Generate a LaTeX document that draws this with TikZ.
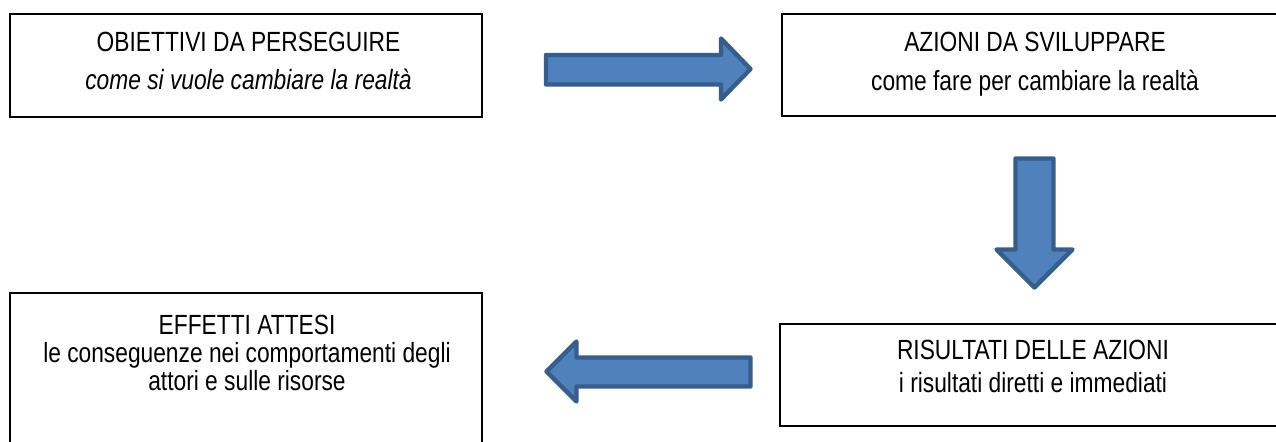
\documentclass[tikz,border=0pt]{standalone}
\usepackage{fontspec}
\setmainfont{Liberation Sans}[FakeStretch=0.82]
\usetikzlibrary{calc}
\definecolor{frecciablu}{HTML}{4F81BD}
\definecolor{bordoblu}{HTML}{385D8A}
\tikzset{
  riquadro/.style={draw=black, line width=1.1pt, inner sep=0pt},
  testo/.style={anchor=north, align=center, inner sep=0pt, font=\fontsize{15.8}{16.5}\selectfont},
  freccia/.style={fill=frecciablu, draw=bordoblu, line width=2.5pt, line join=round}
}
\begin{document}
\begin{tikzpicture}[x=0.02cm, y=-0.02cm]
\useasboundingbox (0,0) rectangle (1276,442);
\clip (0,0) rectangle (1276,442);
% riquadri
\node[riquadro, minimum width=9.44cm, minimum height=2.06cm] (obiettivi) at (246,65.5) {};
\node[riquadro, minimum width=10.12cm, minimum height=2.04cm] (azioni) at (1035,65) {};
\node[riquadro, minimum width=10.16cm, minimum height=2.04cm] (risultati) at (1034,375) {};
\node[riquadro, minimum width=9.44cm, minimum height=3.34cm] (effetti) at (246,376.5) {};
% testi
\node[testo] (t-obiettivi) at (248.5,31.7) {OBIETTIVI DA PERSEGUIRE\\[5pt] \textit{come si vuole cambiare la realtà}};
\node[testo] (t-azioni) at (1035,31.7) {AZIONI DA SVILUPPARE\\[5.5pt] come fare per cambiare la realtà};
\node[testo] (t-risultati) at (1033,340) {RISULTATI DELLE AZIONI\\[2.4pt] i risultati diretti e immediati};
\node[testo] (t-effetti) at (247,315) {EFFETTI ATTESI\\[-0.5pt] le conseguenze nei comportamenti degli\\[-0.5pt] attori e sulle risorse};
% frecce
\draw[freccia] (546,55) -- (721,55) -- (721,38.5) -- (750.5,69) -- (721,99.5) -- (721,84.5) -- (546,84.5) -- cycle;
\draw[freccia] (1015.5,158.5) -- (1053.5,158.5) -- (1053.5,249.5) -- (1072.5,249.5) -- (1034.5,287.5) -- (996.5,249.5) -- (1015.5,249.5) -- cycle;
\draw[freccia] (750.5,357.5) -- (576.5,357.5) -- (576.5,341.5) -- (546.5,371.5) -- (576.5,401.5) -- (576.5,386.5) -- (750.5,386.5) -- cycle;
\end{tikzpicture}
\end{document}
